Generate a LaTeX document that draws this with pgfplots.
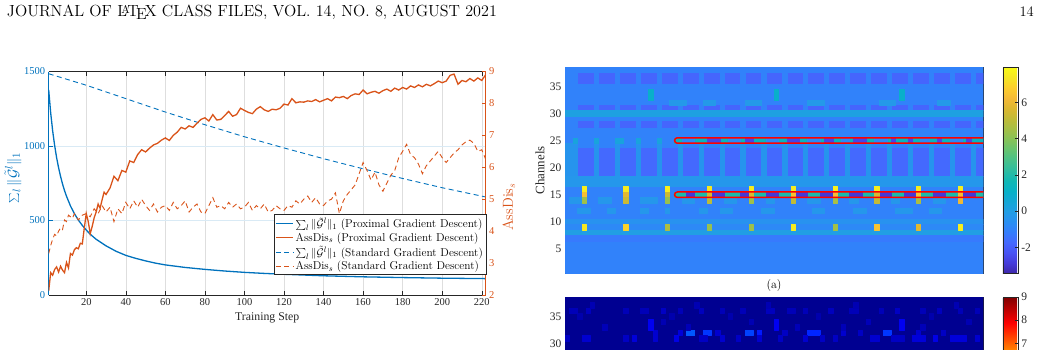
\documentclass[border=0pt]{standalone}
\usepackage{fontspec}
\newfontfamily\tnr{Liberation Serif}
\usepackage{graphicx}
\usepackage{pgfplots}
\pgfplotsset{compat=1.18}
\usepgfplotslibrary{patchplots}

\definecolor{matblue}{rgb}{0,0.447,0.741}
\definecolor{matorange}{rgb}{0.851,0.325,0.098}
\definecolor{axgray}{rgb}{0.15,0.15,0.15}

\pgfplotsset{
 colormap={parula}{rgb=(0.2422,0.1504,0.6603) rgb=(0.2704,0.2305,0.8549) rgb=(0.2810,0.3228,0.9579) rgb=(0.2681,0.4069,0.9962) rgb=(0.2061,0.4906,0.9910) rgb=(0.1609,0.5622,0.9466) rgb=(0.1296,0.6175,0.8964) rgb=(0.0750,0.6560,0.8380) rgb=(0.0267,0.6953,0.7806) rgb=(0.0595,0.7205,0.7076) rgb=(0.1766,0.7410,0.6301) rgb=(0.2810,0.7578,0.5394) rgb=(0.3975,0.7673,0.4393) rgb=(0.5264,0.7654,0.3472) rgb=(0.6443,0.7510,0.2767) rgb=(0.7529,0.7339,0.2173) rgb=(0.8612,0.7194,0.1877) rgb=(0.9600,0.7279,0.2118) rgb=(0.9900,0.8058,0.1713) rgb=(0.9634,0.9015,0.1355) rgb=(0.9769,0.9839,0.0805)},
 /pgf/number format/assume math mode=true,
 /pgf/number format/1000 sep={},
}

\newcommand{\tickfont}{\tnr\fontsize{10.5}{12}\selectfont}
\newcommand{\hmfont}{\tnr\fontsize{11.5}{13}\selectfont}

\begin{document}
\begin{tikzpicture}
\useasboundingbox (0pt,0pt) rectangle (1040pt,-349pt);
\clip (0pt,0pt) rectangle (1040pt,-349pt);

\node[anchor=base west, inner sep=0pt] at (6.7pt,-16pt) {\resizebox{490pt}{!}{\fontsize{14.5}{17}\selectfont JOURNAL OF \LaTeX\ CLASS FILES, VOL. 14, NO. 8, AUGUST 2021}};
\node[anchor=base east, inner sep=0pt] at (1034pt,-16pt) {\fontsize{14.5}{17}\selectfont 14};

%================ LEFT AXIS ================
\begin{axis}[
 at={(48.7pt,-295pt)}, anchor=south west,
 scale only axis, width=437pt, height=223.5pt,
 xmin=1, xmax=222, ymin=0, ymax=1500,
 xtick={20,40,...,220}, ytick={0,500,1000,1500},
 separate axis lines,
 axis line style={line width=0.6pt},
 x axis line style={axgray}, y axis line style={matblue},
 ytick pos=left,
 tick align=inside, major tick length=4pt,
 x tick style={axgray, line width=0.5pt}, y tick style={matblue, line width=0.5pt},
 x tick label style={text=axgray, font=\tickfont},
 y tick label style={text=matblue, font=\tickfont},
 xmajorgrids, ymajorgrids,
 x grid style={black!13, line width=0.5pt},
 y grid style={matblue!15, line width=0.5pt},
 xlabel={Training Step},
 xlabel style={text=axgray, font=\tnr\fontsize{11.8}{13}\selectfont},
 ylabel={$\sum_l \|\tilde{\mathcal{G}}^l\|_1$},
 ylabel style={text=matblue, font=\fontsize{15}{17}\selectfont, at={(axis description cs:-0.0817,0.525)}, anchor=center},
]
\addplot[matblue, line width=1.3pt] coordinates {
(1,1376)(2,1223)(3,1102)(4,1004)(5,922)(6,854)(7,796)(8,745)(9,701)(10,663)(12,598)(14,546)(16,503)(18,467)(20,436)(22,408)(25,374)(30,330)(35,294)(40,266)(45,246)(50,229)(55,214)(60,202)(70,185)(80,172)(90,161)(100,152)(110,145)(120,139)(140,129)(160,122)(180,117)(200,113)(222,110)
};
\addplot[matblue, line width=0.9pt, dash pattern=on 5pt off 3.5pt] coordinates {
(1,1485)(20,1408)(40,1318)(60,1228)(80,1143)(100,1062)(120,987)(140,915)(160,847)(180,782)(200,720)(222,658)
};
\end{axis}

%================ RIGHT AXIS ================
\begin{axis}[
 at={(48.7pt,-295pt)}, anchor=south west,
 scale only axis, width=437pt, height=223.5pt,
 xmin=1, xmax=222, ymin=2, ymax=9,
 ytick={2,3,...,9},
 axis x line=none, axis y line*=right,
 axis line style={-, matorange, line width=0.6pt},
 tick align=inside, major tick length=4pt,
 y tick style={matorange, line width=0.5pt},
 y tick label style={text=matorange, font=\tickfont},
 ylabel={AssDis$_s$},
 ylabel style={text=matorange, font=\fontsize{14.5}{16}\selectfont, at={(axis description cs:1.053,0.394)}, anchor=center},
 legend style={at={(1.002,0.09)}, anchor=south east, draw=axgray, font=\fontsize{11.4}{13}\selectfont, inner sep=1.5pt, row sep=-0.6pt, fill=white},
 legend cell align=left,
]
\addlegendimage{matblue, line width=1.3pt}
\addlegendentry{$\sum_l \|\tilde{\mathcal{G}}^l\|_1$ (Proximal Gradient Descent)}
\addlegendimage{matorange, line width=1.3pt}
\addlegendentry{AssDis$_s$ (Proximal Gradient Descent)}
\addlegendimage{matblue, line width=0.9pt, dash pattern=on 5pt off 3.5pt}
\addlegendentry{$\sum_l \|\tilde{\mathcal{G}}^l\|_1$ (Standard Gradient Descent)}
\addlegendimage{matorange, line width=0.9pt, dash pattern=on 5pt off 3.5pt}
\addlegendentry{AssDis$_s$ (Standard Gradient Descent)}
\addplot[matorange, line width=1.3pt, forget plot] coordinates {
(1,2.13)(2,2.70)(3,2.62)(4,2.80)(5,2.88)(6,2.72)(7,2.90)(8,2.78)(9,2.70)(10,3.02)(11,2.85)(12,3.30)(13,3.25)(14,3.42)(15,3.48)(16,3.45)(17,3.62)(18,3.60)(19,4.10)(20,4.55)(21,4.30)(22,3.92)(23,4.15)(24,4.42)(25,4.60)(26,4.85)(27,4.72)(28,4.98)(29,5.22)(30,5.15)
(32,5.35)(34,5.72)(36,5.58)(38,5.90)(40,5.85)(42,6.20)(44,6.15)(46,6.40)(48,6.55)(50,6.48)(52,6.60)(54,6.70)(56,6.75)(58,6.85)(60,6.92)(62,6.84)(64,7.00)(66,7.10)(68,7.25)(70,7.20)(72,7.30)(74,7.25)(76,7.38)(78,7.50)(80,7.55)(82,7.45)(84,7.65)(86,7.48)(88,7.50)(90,7.62)(92,7.75)(94,7.60)(96,7.65)(98,7.85)(100,7.78)(102,7.72)(104,7.68)(106,7.82)(108,7.90)(110,7.80)(112,7.75)(114,7.82)(116,7.80)(118,7.85)(120,7.98)(122,7.95)(124,8.15)(126,8.02)(128,8.05)(130,8.04)(132,8.08)(134,8.06)(136,8.12)(138,8.05)(140,8.10)(142,8.15)(144,8.08)(146,8.20)(148,8.18)(150,8.22)(152,8.15)(154,8.25)(156,8.30)(158,8.28)(160,8.42)(162,8.30)(164,8.35)(166,8.38)(168,8.32)(170,8.40)(172,8.45)(174,8.38)(176,8.48)(178,8.42)(180,8.50)(182,8.45)(184,8.55)(186,8.50)(188,8.58)(190,8.52)(192,8.60)(194,8.55)(196,8.62)(198,8.70)(200,8.65)(202,8.70)(204,8.88)(206,8.92)(208,8.60)(210,8.72)(212,8.68)(214,8.78)(216,8.70)(218,8.80)(220,8.72)(222,8.90)
};
\addplot[matorange, line width=0.9pt, dash pattern=on 5pt off 3.5pt, forget plot] coordinates {
(1,3.30)(2,3.55)(3,3.75)(4,3.90)(5,3.85)(6,4.00)(7,4.10)(8,4.05)(9,4.35)(10,4.30)(11,4.50)(12,4.45)(13,4.40)(14,4.55)(15,4.45)(16,4.35)(18,4.50)(20,4.55)(22,4.45)(24,4.70)(26,4.55)(28,4.80)(30,4.60)(32,4.75)(34,4.30)(36,4.70)(38,4.55)(40,4.90)(42,4.70)(44,4.95)(46,4.75)(48,5.00)(50,4.80)(52,4.65)(54,4.85)(56,4.60)(58,4.75)(60,4.80)(62,4.65)(64,4.90)(66,4.70)(68,4.80)(70,4.95)(72,4.60)(74,4.75)(76,4.85)(78,4.60)(80,4.55)(82,4.80)(84,5.05)(86,4.75)(88,4.80)(90,4.70)(92,4.90)(94,4.75)(96,4.85)(98,4.70)(100,4.75)(102,4.90)(104,4.65)(106,4.80)(108,4.70)(110,4.85)(112,4.60)(114,4.65)(116,4.80)(118,4.70)(120,4.65)(122,4.80)(124,4.75)(126,4.95)(128,4.85)(130,5.00)(132,5.10)(134,4.90)(136,5.05)(138,4.85)(140,4.80)(142,4.95)(144,5.00)(146,5.20)(148,4.55)(150,4.95)(152,5.15)(154,5.30)(156,5.45)(158,5.80)(160,6.15)(162,5.90)(164,5.60)(166,5.85)(168,5.45)(170,5.25)(172,5.50)(174,5.75)(176,5.90)(178,6.30)(180,6.50)(182,6.72)(184,6.40)(186,6.30)(188,6.10)(190,5.80)(192,6.05)(194,6.20)(196,6.35)(198,6.50)(200,6.30)(202,6.15)(204,6.30)(206,6.45)(208,6.55)(210,6.70)(212,6.80)(214,6.85)(216,6.75)(218,6.50)(220,6.55)(222,6.25)
};
\end{axis}

%================ TOP HEATMAP ================
\begin{axis}[
 at={(565pt,-273.3pt)}, anchor=south west,
 scale only axis, width=418.3pt, height=206pt,
 xmin=0.5, xmax=100.5, ymin=0.5, ymax=38.5,
 xtick={10,20,...,100}, xticklabels={},
 ytick={5,10,...,35},
 tick align=inside, major tick length=4pt,
 axis line style={axgray, line width=0.6pt},
 tick style={axgray, line width=0.5pt},
 y tick label style={text=axgray, font=\hmfont},
 ylabel={Channels},
 ylabel style={text=axgray, font=\tnr\fontsize{12.9}{14}\selectfont, at={(axis description cs:-0.0598,0.5)}, anchor=center},
 colormap name=parula, point meta min=-3.43, point meta max=7.94,
 colorbar,
 colorbar style={at={(parent axis.north east)}, anchor=north west, xshift=11pt, scale only axis, width=15pt, height=206pt,
   ytick={-2,0,2,4,6}, tick align=inside, ytick pos=right, yticklabel pos=right, major tick length=3pt,
   y tick label style={text=axgray, font=\hmfont}, axis line style={axgray, line width=0.6pt}, tick style={axgray, line width=0.5pt}},
]
\addplot[patch, patch type=rectangle, shader=flat, point meta=explicit] coordinates {
(0.5,0.5)[-1.0] (100.5,0.5)[-1.0] (100.5,38.5)[-1.0] (0.5,38.5)[-1.0]
(0.5,35.5)[-1.8] (100.5,35.5)[-1.8] (100.5,37.5)[-1.8] (0.5,37.5)[-1.8]
(0.5,30.5)[-1.8] (100.5,30.5)[-1.8] (100.5,31.5)[-1.8] (0.5,31.5)[-1.8]
(0.5,27.5)[-1.8] (100.5,27.5)[-1.8] (100.5,28.5)[-1.8] (0.5,28.5)[-1.8]
(0.5,18.5)[-1.7] (100.5,18.5)[-1.7] (100.5,23.5)[-1.7] (0.5,23.5)[-1.7]
(0.5,27.5)[-1.0] (3.5,27.5)[-1.0] (3.5,37.5)[-1.0] (0.5,37.5)[-1.0]
(7.5,27.5)[-1.0] (8.5,27.5)[-1.0] (8.5,37.5)[-1.0] (7.5,37.5)[-1.0]
(12.5,27.5)[-1.0] (13.5,27.5)[-1.0] (13.5,37.5)[-1.0] (12.5,37.5)[-1.0]
(17.5,27.5)[-1.0] (18.5,27.5)[-1.0] (18.5,37.5)[-1.0] (17.5,37.5)[-1.0]
(22.5,27.5)[-1.0] (23.5,27.5)[-1.0] (23.5,37.5)[-1.0] (22.5,37.5)[-1.0]
(27.5,27.5)[-1.0] (28.5,27.5)[-1.0] (28.5,37.5)[-1.0] (27.5,37.5)[-1.0]
(32.5,27.5)[-1.0] (33.5,27.5)[-1.0] (33.5,37.5)[-1.0] (32.5,37.5)[-1.0]
(37.5,27.5)[-1.0] (38.5,27.5)[-1.0] (38.5,37.5)[-1.0] (37.5,37.5)[-1.0]
(42.5,27.5)[-1.0] (43.5,27.5)[-1.0] (43.5,37.5)[-1.0] (42.5,37.5)[-1.0]
(47.5,27.5)[-1.0] (48.5,27.5)[-1.0] (48.5,37.5)[-1.0] (47.5,37.5)[-1.0]
(52.5,27.5)[-1.0] (53.5,27.5)[-1.0] (53.5,37.5)[-1.0] (52.5,37.5)[-1.0]
(57.5,27.5)[-1.0] (58.5,27.5)[-1.0] (58.5,37.5)[-1.0] (57.5,37.5)[-1.0]
(62.5,27.5)[-1.0] (63.5,27.5)[-1.0] (63.5,37.5)[-1.0] (62.5,37.5)[-1.0]
(67.5,27.5)[-1.0] (68.5,27.5)[-1.0] (68.5,37.5)[-1.0] (67.5,37.5)[-1.0]
(72.5,27.5)[-1.0] (73.5,27.5)[-1.0] (73.5,37.5)[-1.0] (72.5,37.5)[-1.0]
(77.5,27.5)[-1.0] (78.5,27.5)[-1.0] (78.5,37.5)[-1.0] (77.5,37.5)[-1.0]
(82.5,27.5)[-1.0] (83.5,27.5)[-1.0] (83.5,37.5)[-1.0] (82.5,37.5)[-1.0]
(87.5,27.5)[-1.0] (88.5,27.5)[-1.0] (88.5,37.5)[-1.0] (87.5,37.5)[-1.0]
(92.5,27.5)[-1.0] (93.5,27.5)[-1.0] (93.5,37.5)[-1.0] (92.5,37.5)[-1.0]
(97.5,27.5)[-1.0] (98.5,27.5)[-1.0] (98.5,37.5)[-1.0] (97.5,37.5)[-1.0]
(0.5,18.5)[-0.4] (3.5,18.5)[-0.4] (3.5,24.5)[-0.4] (0.5,24.5)[-0.4]
(7.5,18.5)[-0.4] (8.5,18.5)[-0.4] (8.5,24.5)[-0.4] (7.5,24.5)[-0.4]
(12.5,18.5)[-0.4] (13.5,18.5)[-0.4] (13.5,24.5)[-0.4] (12.5,24.5)[-0.4]
(17.5,18.5)[-0.4] (18.5,18.5)[-0.4] (18.5,24.5)[-0.4] (17.5,24.5)[-0.4]
(22.5,18.5)[-0.4] (23.5,18.5)[-0.4] (23.5,24.5)[-0.4] (22.5,24.5)[-0.4]
(27.5,18.5)[-0.4] (28.5,18.5)[-0.4] (28.5,24.5)[-0.4] (27.5,24.5)[-0.4]
(32.5,18.5)[-0.4] (33.5,18.5)[-0.4] (33.5,24.5)[-0.4] (32.5,24.5)[-0.4]
(37.5,18.5)[-0.4] (38.5,18.5)[-0.4] (38.5,24.5)[-0.4] (37.5,24.5)[-0.4]
(42.5,18.5)[-0.4] (43.5,18.5)[-0.4] (43.5,24.5)[-0.4] (42.5,24.5)[-0.4]
(47.5,18.5)[-0.4] (48.5,18.5)[-0.4] (48.5,24.5)[-0.4] (47.5,24.5)[-0.4]
(52.5,18.5)[-0.4] (53.5,18.5)[-0.4] (53.5,24.5)[-0.4] (52.5,24.5)[-0.4]
(57.5,18.5)[-0.4] (58.5,18.5)[-0.4] (58.5,24.5)[-0.4] (57.5,24.5)[-0.4]
(62.5,18.5)[-0.4] (63.5,18.5)[-0.4] (63.5,24.5)[-0.4] (62.5,24.5)[-0.4]
(67.5,18.5)[-0.4] (68.5,18.5)[-0.4] (68.5,24.5)[-0.4] (67.5,24.5)[-0.4]
(72.5,18.5)[-0.4] (73.5,18.5)[-0.4] (73.5,24.5)[-0.4] (72.5,24.5)[-0.4]
(77.5,18.5)[-0.4] (78.5,18.5)[-0.4] (78.5,24.5)[-0.4] (77.5,24.5)[-0.4]
(82.5,18.5)[-0.4] (83.5,18.5)[-0.4] (83.5,24.5)[-0.4] (82.5,24.5)[-0.4]
(87.5,18.5)[-0.4] (88.5,18.5)[-0.4] (88.5,24.5)[-0.4] (87.5,24.5)[-0.4]
(92.5,18.5)[-0.4] (93.5,18.5)[-0.4] (93.5,24.5)[-0.4] (92.5,24.5)[-0.4]
(97.5,18.5)[-0.4] (98.5,18.5)[-0.4] (98.5,24.5)[-0.4] (97.5,24.5)[-0.4]
(0.5,29.5)[0.1] (100.5,29.5)[0.1] (100.5,30.5)[0.1] (0.5,30.5)[0.1]
(0.5,16.5)[-0.3] (100.5,16.5)[-0.3] (100.5,18.5)[-0.3] (0.5,18.5)[-0.3]
(0.5,9.5)[-0.5] (100.5,9.5)[-0.5] (100.5,10.5)[-0.5] (0.5,10.5)[-0.5]
(0.5,8.5)[-0.8] (100.5,8.5)[-0.8] (100.5,9.5)[-0.8] (0.5,9.5)[-0.8]
(0.5,7.5)[0.0] (100.5,7.5)[0.0] (100.5,8.5)[0.0] (0.5,8.5)[0.0]
(0.5,6.5)[-1.25] (100.5,6.5)[-1.25] (100.5,7.5)[-1.25] (0.5,7.5)[-1.25]
(25.5,31.5)[-0.2] (29.5,31.5)[-0.2] (29.5,32.5)[-0.2] (25.5,32.5)[-0.2]
(33.5,31.5)[-0.2] (36.5,31.5)[-0.2] (36.5,32.5)[-0.2] (33.5,32.5)[-0.2]
(43.5,31.5)[-0.2] (47.5,31.5)[-0.2] (47.5,32.5)[-0.2] (43.5,32.5)[-0.2]
(58.5,31.5)[-0.2] (62.5,31.5)[-0.2] (62.5,32.5)[-0.2] (58.5,32.5)[-0.2]
(75.5,31.5)[-0.2] (79.5,31.5)[-0.2] (79.5,32.5)[-0.2] (75.5,32.5)[-0.2]
(89.5,31.5)[-0.2] (92.5,31.5)[-0.2] (92.5,32.5)[-0.2] (89.5,32.5)[-0.2]
(20.5,32.5)[1.0] (21.5,32.5)[1.0] (21.5,34.5)[1.0] (20.5,34.5)[1.0]
(50.5,32.5)[1.0] (51.5,32.5)[1.0] (51.5,34.5)[1.0] (50.5,34.5)[1.0]
(80.5,32.5)[1.0] (81.5,32.5)[1.0] (81.5,34.5)[1.0] (80.5,34.5)[1.0]
(2.5,24.5)[0.3] (3.5,24.5)[0.3] (3.5,25.5)[0.3] (2.5,25.5)[0.3]
(7.5,24.5)[0.3] (8.5,24.5)[0.3] (8.5,25.5)[0.3] (7.5,25.5)[0.3]
(12.5,24.5)[0.3] (14.5,24.5)[0.3] (14.5,25.5)[0.3] (12.5,25.5)[0.3]
(17.5,24.5)[0.3] (18.5,24.5)[0.3] (18.5,25.5)[0.3] (17.5,25.5)[0.3]
(22.5,24.5)[0.3] (23.5,24.5)[0.3] (23.5,25.5)[0.3] (22.5,25.5)[0.3]
(26.5,24.5)[1.4] (100.5,24.5)[1.4] (100.5,25.5)[1.4] (26.5,25.5)[1.4]
(28.5,24.5)[-0.8] (31.5,24.5)[-0.8] (31.5,25.5)[-0.8] (28.5,25.5)[-0.8]
(39.5,24.5)[-0.8] (42.5,24.5)[-0.8] (42.5,25.5)[-0.8] (39.5,25.5)[-0.8]
(48.5,24.5)[-0.8] (51.5,24.5)[-0.8] (51.5,25.5)[-0.8] (48.5,25.5)[-0.8]
(58.5,24.5)[-0.8] (61.5,24.5)[-0.8] (61.5,25.5)[-0.8] (58.5,25.5)[-0.8]
(66.5,24.5)[-0.8] (68.5,24.5)[-0.8] (68.5,25.5)[-0.8] (66.5,25.5)[-0.8]
(74.5,24.5)[-0.8] (77.5,24.5)[-0.8] (77.5,25.5)[-0.8] (74.5,25.5)[-0.8]
(85.5,24.5)[-0.8] (87.5,24.5)[-0.8] (87.5,25.5)[-0.8] (85.5,25.5)[-0.8]
(92.5,24.5)[-0.8] (95.5,24.5)[-0.8] (95.5,25.5)[-0.8] (92.5,25.5)[-0.8]
(34.5,24.5)[-2.6] (37.5,24.5)[-2.6] (37.5,25.5)[-2.6] (34.5,25.5)[-2.6]
(43.5,24.5)[-2.6] (45.5,24.5)[-2.6] (45.5,25.5)[-2.6] (43.5,25.5)[-2.6]
(53.5,24.5)[-2.6] (56.5,24.5)[-2.6] (56.5,25.5)[-2.6] (53.5,25.5)[-2.6]
(62.5,24.5)[-2.6] (64.5,24.5)[-2.6] (64.5,25.5)[-2.6] (62.5,25.5)[-2.6]
(69.5,24.5)[-2.6] (72.5,24.5)[-2.6] (72.5,25.5)[-2.6] (69.5,25.5)[-2.6]
(78.5,24.5)[-2.6] (79.5,24.5)[-2.6] (79.5,25.5)[-2.6] (78.5,25.5)[-2.6]
(82.5,24.5)[-2.6] (83.5,24.5)[-2.6] (83.5,25.5)[-2.6] (82.5,25.5)[-2.6]
(89.5,24.5)[-2.6] (90.5,24.5)[-2.6] (90.5,25.5)[-2.6] (89.5,25.5)[-2.6]
(96.5,24.5)[-2.6] (97.5,24.5)[-2.6] (97.5,25.5)[-2.6] (96.5,25.5)[-2.6]
(26.5,14.5)[1.9] (100.5,14.5)[1.9] (100.5,15.5)[1.9] (26.5,15.5)[1.9]
(29.5,14.5)[-2.9] (31.5,14.5)[-2.9] (31.5,15.5)[-2.9] (29.5,15.5)[-2.9]
(35.5,14.5)[-2.9] (38.5,14.5)[-2.9] (38.5,15.5)[-2.9] (35.5,15.5)[-2.9]
(42.5,14.5)[-2.9] (44.5,14.5)[-2.9] (44.5,15.5)[-2.9] (42.5,15.5)[-2.9]
(48.5,14.5)[-2.9] (51.5,14.5)[-2.9] (51.5,15.5)[-2.9] (48.5,15.5)[-2.9]
(55.5,14.5)[-2.9] (58.5,14.5)[-2.9] (58.5,15.5)[-2.9] (55.5,15.5)[-2.9]
(61.5,14.5)[-2.9] (64.5,14.5)[-2.9] (64.5,15.5)[-2.9] (61.5,15.5)[-2.9]
(68.5,14.5)[-2.9] (71.5,14.5)[-2.9] (71.5,15.5)[-2.9] (68.5,15.5)[-2.9]
(75.5,14.5)[-2.9] (78.5,14.5)[-2.9] (78.5,15.5)[-2.9] (75.5,15.5)[-2.9]
(81.5,14.5)[-2.9] (84.5,14.5)[-2.9] (84.5,15.5)[-2.9] (81.5,15.5)[-2.9]
(88.5,14.5)[-2.9] (91.5,14.5)[-2.9] (91.5,15.5)[-2.9] (88.5,15.5)[-2.9]
(95.5,14.5)[-2.9] (98.5,14.5)[-2.9] (98.5,15.5)[-2.9] (95.5,15.5)[-2.9]
(1.5,13.5)[-0.3] (4.5,13.5)[-0.3] (4.5,14.5)[-0.3] (1.5,14.5)[-0.3]
(8.5,13.5)[-0.3] (11.5,13.5)[-0.3] (11.5,14.5)[-0.3] (8.5,14.5)[-0.3]
(18.5,13.5)[-0.3] (22.5,13.5)[-0.3] (22.5,14.5)[-0.3] (18.5,14.5)[-0.3]
(28.5,13.5)[-0.3] (31.5,13.5)[-0.3] (31.5,14.5)[-0.3] (28.5,14.5)[-0.3]
(38.5,13.5)[-0.3] (41.5,13.5)[-0.3] (41.5,14.5)[-0.3] (38.5,14.5)[-0.3]
(48.5,13.5)[-0.3] (50.5,13.5)[-0.3] (50.5,14.5)[-0.3] (48.5,14.5)[-0.3]
(58.5,13.5)[-0.3] (61.5,13.5)[-0.3] (61.5,14.5)[-0.3] (58.5,14.5)[-0.3]
(68.5,13.5)[-0.3] (70.5,13.5)[-0.3] (70.5,14.5)[-0.3] (68.5,14.5)[-0.3]
(78.5,13.5)[-0.3] (80.5,13.5)[-0.3] (80.5,14.5)[-0.3] (78.5,14.5)[-0.3]
(88.5,13.5)[-0.3] (91.5,13.5)[-0.3] (91.5,14.5)[-0.3] (88.5,14.5)[-0.3]
(3.5,11.5)[-0.3] (6.5,11.5)[-0.3] (6.5,12.5)[-0.3] (3.5,12.5)[-0.3]
(10.5,11.5)[-0.3] (12.5,11.5)[-0.3] (12.5,12.5)[-0.3] (10.5,12.5)[-0.3]
(18.5,11.5)[-0.3] (20.5,11.5)[-0.3] (20.5,12.5)[-0.3] (18.5,12.5)[-0.3]
(24.5,11.5)[-0.3] (25.5,11.5)[-0.3] (25.5,12.5)[-0.3] (24.5,12.5)[-0.3]
(32.5,11.5)[-0.3] (34.5,11.5)[-0.3] (34.5,12.5)[-0.3] (32.5,12.5)[-0.3]
(37.5,11.5)[-0.3] (40.5,11.5)[-0.3] (40.5,12.5)[-0.3] (37.5,12.5)[-0.3]
(47.5,11.5)[-0.3] (50.5,11.5)[-0.3] (50.5,12.5)[-0.3] (47.5,12.5)[-0.3]
(59.5,11.5)[-0.3] (62.5,11.5)[-0.3] (62.5,12.5)[-0.3] (59.5,12.5)[-0.3]
(69.5,11.5)[-0.3] (72.5,11.5)[-0.3] (72.5,12.5)[-0.3] (69.5,12.5)[-0.3]
(79.5,11.5)[-0.3] (83.5,11.5)[-0.3] (83.5,12.5)[-0.3] (79.5,12.5)[-0.3]
(87.5,11.5)[-0.3] (90.5,11.5)[-0.3] (90.5,12.5)[-0.3] (87.5,12.5)[-0.3]
(4.5,15.5)[7.6] (5.5,15.5)[7.6] (5.5,16.5)[7.6] (4.5,16.5)[7.6]
(14.5,15.5)[7.5] (15.5,15.5)[7.5] (15.5,16.5)[7.5] (14.5,16.5)[7.5]
(24.5,15.5)[7.6] (25.5,15.5)[7.6] (25.5,16.5)[7.6] (24.5,16.5)[7.6]
(34.5,15.5)[7.4] (35.5,15.5)[7.4] (35.5,16.5)[7.4] (34.5,16.5)[7.4]
(44.5,15.5)[7.6] (45.5,15.5)[7.6] (45.5,16.5)[7.6] (44.5,16.5)[7.6]
(54.5,15.5)[7.5] (55.5,15.5)[7.5] (55.5,16.5)[7.5] (54.5,16.5)[7.5]
(64.5,15.5)[7.7] (65.5,15.5)[7.7] (65.5,16.5)[7.7] (64.5,16.5)[7.7]
(74.5,15.5)[7.6] (75.5,15.5)[7.6] (75.5,16.5)[7.6] (74.5,16.5)[7.6]
(84.5,15.5)[7.5] (85.5,15.5)[7.5] (85.5,16.5)[7.5] (84.5,16.5)[7.5]
(94.5,15.5)[7.6] (95.5,15.5)[7.6] (95.5,16.5)[7.6] (94.5,16.5)[7.6]
(4.5,14.5)[6.4] (5.5,14.5)[6.4] (5.5,15.5)[6.4] (4.5,15.5)[6.4]
(14.5,14.5)[5.8] (15.5,14.5)[5.8] (15.5,15.5)[5.8] (14.5,15.5)[5.8]
(24.5,14.5)[5.3] (25.5,14.5)[5.3] (25.5,15.5)[5.3] (24.5,15.5)[5.3]
(34.5,14.5)[5.5] (35.5,14.5)[5.5] (35.5,15.5)[5.5] (34.5,15.5)[5.5]
(44.5,14.5)[5.6] (45.5,14.5)[5.6] (45.5,15.5)[5.6] (44.5,15.5)[5.6]
(54.5,14.5)[6.4] (55.5,14.5)[6.4] (55.5,15.5)[6.4] (54.5,15.5)[6.4]
(64.5,14.5)[6.3] (65.5,14.5)[6.3] (65.5,15.5)[6.3] (64.5,15.5)[6.3]
(74.5,14.5)[5.6] (75.5,14.5)[5.6] (75.5,15.5)[5.6] (74.5,15.5)[5.6]
(84.5,14.5)[6.5] (85.5,14.5)[6.5] (85.5,15.5)[6.5] (84.5,15.5)[6.5]
(94.5,14.5)[6.3] (95.5,14.5)[6.3] (95.5,15.5)[6.3] (94.5,15.5)[6.3]
(4.5,13.5)[4.4] (5.5,13.5)[4.4] (5.5,14.5)[4.4] (4.5,14.5)[4.4]
(14.5,13.5)[5.3] (15.5,13.5)[5.3] (15.5,14.5)[5.3] (14.5,14.5)[5.3]
(24.5,13.5)[4.3] (25.5,13.5)[4.3] (25.5,14.5)[4.3] (24.5,14.5)[4.3]
(34.5,13.5)[5.0] (35.5,13.5)[5.0] (35.5,14.5)[5.0] (34.5,14.5)[5.0]
(44.5,13.5)[4.4] (45.5,13.5)[4.4] (45.5,14.5)[4.4] (44.5,14.5)[4.4]
(54.5,13.5)[5.1] (55.5,13.5)[5.1] (55.5,14.5)[5.1] (54.5,14.5)[5.1]
(64.5,13.5)[4.6] (65.5,13.5)[4.6] (65.5,14.5)[4.6] (64.5,14.5)[4.6]
(74.5,13.5)[5.2] (75.5,13.5)[5.2] (75.5,14.5)[5.2] (74.5,14.5)[5.2]
(84.5,13.5)[4.7] (85.5,13.5)[4.7] (85.5,14.5)[4.7] (84.5,14.5)[4.7]
(94.5,13.5)[6.1] (95.5,13.5)[6.1] (95.5,14.5)[6.1] (94.5,14.5)[6.1]
(4.5,8.5)[7.4] (5.5,8.5)[7.4] (5.5,9.5)[7.4] (4.5,9.5)[7.4]
(14.5,8.5)[6.9] (15.5,8.5)[6.9] (15.5,9.5)[6.9] (14.5,9.5)[6.9]
(24.5,8.5)[4.7] (25.5,8.5)[4.7] (25.5,9.5)[4.7] (24.5,9.5)[4.7]
(34.5,8.5)[4.3] (35.5,8.5)[4.3] (35.5,9.5)[4.3] (34.5,9.5)[4.3]
(44.5,8.5)[4.4] (45.5,8.5)[4.4] (45.5,9.5)[4.4] (44.5,9.5)[4.4]
(54.5,8.5)[7.5] (55.5,8.5)[7.5] (55.5,9.5)[7.5] (54.5,9.5)[7.5]
(64.5,8.5)[4.5] (65.5,8.5)[4.5] (65.5,9.5)[4.5] (64.5,9.5)[4.5]
(74.5,8.5)[6.5] (75.5,8.5)[6.5] (75.5,9.5)[6.5] (74.5,9.5)[6.5]
(84.5,8.5)[5.8] (85.5,8.5)[5.8] (85.5,9.5)[5.8] (84.5,9.5)[5.8]
(94.5,8.5)[7.6] (95.5,8.5)[7.6] (95.5,9.5)[7.6] (94.5,9.5)[7.6]
};
\draw[red, line width=1.5pt, rounded corners=2.7pt] (axis cs:26.7,24.5) rectangle (axis cs:101.5,25.5);
\draw[red, line width=1.5pt, rounded corners=2.7pt] (axis cs:26.7,14.5) rectangle (axis cs:101.5,15.5);
\end{axis}

\node at (774pt,-285.7pt) {\fontsize{12}{14}\selectfont (a)};

%================ BOTTOM HEATMAP ================
\begin{axis}[
 at={(565pt,-297pt)}, anchor=north west,
 scale only axis, width=418.3pt, height=209pt,
 xmin=0.5, xmax=100.5, ymin=0.5, ymax=38.5,
 xtick={10,20,...,100}, xticklabels={},
 ytick={5,10,...,35},
 tick align=inside, major tick length=4pt,
 axis line style={axgray, line width=0.6pt},
 tick style={axgray, line width=0.5pt},
 y tick label style={text=axgray, font=\hmfont},
 ylabel={Channels},
 ylabel style={text=axgray, font=\tnr\fontsize{12.9}{14}\selectfont, at={(axis description cs:-0.0598,0.5)}, anchor=center},
 colormap/jet, point meta min=0, point meta max=9,
 colorbar,
 colorbar style={at={(parent axis.north east)}, anchor=north west, xshift=11pt, scale only axis, width=15pt, height=209pt,
   ytick={0,1,...,9}, tick align=inside, ytick pos=right, yticklabel pos=right, major tick length=3pt,
   y tick label style={text=axgray, font=\hmfont}, axis line style={axgray, line width=0.6pt}, tick style={axgray, line width=0.5pt}},
]
\addplot[patch, patch type=rectangle, shader=flat, point meta=explicit] coordinates {
(0.5,0.5)[0.15] (100.5,0.5)[0.15] (100.5,38.5)[0.15] (0.5,38.5)[0.15]
(29.5,31.5)[1.9] (31.5,31.5)[1.9] (31.5,32.5)[1.9] (29.5,32.5)[1.9]
(33.5,31.5)[1.6] (35.5,31.5)[1.6] (35.5,32.5)[1.6] (33.5,32.5)[1.6]
(43.5,31.5)[1.7] (45.5,31.5)[1.7] (45.5,32.5)[1.7] (43.5,32.5)[1.7]
(46.5,31.5)[1.35] (47.5,31.5)[1.35] (47.5,32.5)[1.35] (46.5,32.5)[1.35]
(58.5,31.5)[1.45] (61.5,31.5)[1.45] (61.5,32.5)[1.45] (58.5,32.5)[1.45]
(76.5,31.5)[1.6] (78.5,31.5)[1.6] (78.5,32.5)[1.6] (76.5,32.5)[1.6]
(21.5,31.5)[0.7] (22.5,31.5)[0.7] (22.5,32.5)[0.7] (21.5,32.5)[0.7]
(27.5,31.5)[0.8] (28.5,31.5)[0.8] (28.5,32.5)[0.8] (27.5,32.5)[0.8]
(36.5,31.5)[0.7] (37.5,31.5)[0.7] (37.5,32.5)[0.7] (36.5,32.5)[0.7]
(52.5,31.5)[0.6] (53.5,31.5)[0.6] (53.5,32.5)[0.6] (52.5,32.5)[0.6]
(66.5,31.5)[0.7] (67.5,31.5)[0.7] (67.5,32.5)[0.7] (66.5,32.5)[0.7]
(70.5,31.5)[0.6] (71.5,31.5)[0.6] (71.5,32.5)[0.6] (70.5,32.5)[0.6]
(84.5,31.5)[0.7] (85.5,31.5)[0.7] (85.5,32.5)[0.7] (84.5,32.5)[0.7]
(90.5,31.5)[0.6] (91.5,31.5)[0.6] (91.5,32.5)[0.6] (90.5,32.5)[0.6]
(0.5,30.5)[0.6] (1.5,30.5)[0.6] (1.5,31.5)[0.6] (0.5,31.5)[0.6]
(4.5,30.5)[0.7] (6.5,30.5)[0.7] (6.5,31.5)[0.7] (4.5,31.5)[0.7]
(14.5,30.5)[0.6] (15.5,30.5)[0.6] (15.5,31.5)[0.6] (14.5,31.5)[0.6]
(16.5,30.5)[0.8] (17.5,30.5)[0.8] (17.5,31.5)[0.8] (16.5,31.5)[0.8]
(21.5,30.5)[0.7] (22.5,30.5)[0.7] (22.5,31.5)[0.7] (21.5,31.5)[0.7]
(26.5,30.5)[0.9] (27.5,30.5)[0.9] (27.5,31.5)[0.9] (26.5,31.5)[0.9]
(32.5,30.5)[0.6] (34.5,30.5)[0.6] (34.5,31.5)[0.6] (32.5,31.5)[0.6]
(37.5,30.5)[0.7] (38.5,30.5)[0.7] (38.5,31.5)[0.7] (37.5,31.5)[0.7]
(41.5,30.5)[0.6] (42.5,30.5)[0.6] (42.5,31.5)[0.6] (41.5,31.5)[0.6]
(46.5,30.5)[0.7] (47.5,30.5)[0.7] (47.5,31.5)[0.7] (46.5,31.5)[0.7]
(51.5,30.5)[0.6] (52.5,30.5)[0.6] (52.5,31.5)[0.6] (51.5,31.5)[0.6]
(57.5,30.5)[0.7] (58.5,30.5)[0.7] (58.5,31.5)[0.7] (57.5,31.5)[0.7]
(61.5,30.5)[0.6] (62.5,30.5)[0.6] (62.5,31.5)[0.6] (61.5,31.5)[0.6]
(64.5,30.5)[0.6] (65.5,30.5)[0.6] (65.5,31.5)[0.6] (64.5,31.5)[0.6]
(73.5,30.5)[0.7] (75.5,30.5)[0.7] (75.5,31.5)[0.7] (73.5,31.5)[0.7]
(78.5,30.5)[0.6] (81.5,30.5)[0.6] (81.5,31.5)[0.6] (78.5,31.5)[0.6]
(83.5,30.5)[0.8] (86.5,30.5)[0.8] (86.5,31.5)[0.8] (83.5,31.5)[0.8]
(88.5,30.5)[0.9] (89.5,30.5)[0.9] (89.5,31.5)[0.9] (88.5,31.5)[0.9]
(92.5,30.5)[0.8] (96.5,30.5)[0.8] (96.5,31.5)[0.8] (92.5,31.5)[0.8]
(98.5,30.5)[0.7] (99.5,30.5)[0.7] (99.5,31.5)[0.7] (98.5,31.5)[0.7]
(20.5,32.5)[1.0] (21.5,32.5)[1.0] (21.5,34.5)[1.0] (20.5,34.5)[1.0]
(50.5,32.5)[1.0] (51.5,32.5)[1.0] (51.5,34.5)[1.0] (50.5,34.5)[1.0]
(80.5,32.5)[1.0] (81.5,32.5)[1.0] (81.5,34.5)[1.0] (80.5,34.5)[1.0]
(23.5,33.5)[0.45] (24.5,33.5)[0.45] (24.5,34.5)[0.45] (23.5,34.5)[0.45]
(44.5,33.5)[0.45] (45.5,33.5)[0.45] (45.5,34.5)[0.45] (44.5,34.5)[0.45]
(72.5,33.5)[0.5] (73.5,33.5)[0.5] (73.5,34.5)[0.5] (72.5,34.5)[0.5]
(96.5,33.5)[0.45] (97.5,33.5)[0.45] (97.5,34.5)[0.45] (96.5,34.5)[0.45]
(9.5,32.5)[0.5] (10.5,32.5)[0.5] (10.5,33.5)[0.5] (9.5,33.5)[0.5]
(29.5,32.5)[0.5] (30.5,32.5)[0.5] (30.5,33.5)[0.5] (29.5,33.5)[0.5]
(55.5,32.5)[0.5] (56.5,32.5)[0.5] (56.5,33.5)[0.5] (55.5,33.5)[0.5]
(66.5,32.5)[0.5] (67.5,32.5)[0.5] (67.5,33.5)[0.5] (66.5,33.5)[0.5]
(85.5,32.5)[0.5] (86.5,32.5)[0.5] (86.5,33.5)[0.5] (85.5,33.5)[0.5]
(3.5,34.5)[0.4] (4.5,34.5)[0.4] (4.5,35.5)[0.4] (3.5,35.5)[0.4]
(25.5,34.5)[0.4] (26.5,34.5)[0.4] (26.5,35.5)[0.4] (25.5,35.5)[0.4]
(39.5,34.5)[0.4] (40.5,34.5)[0.4] (40.5,35.5)[0.4] (39.5,35.5)[0.4]
(60.5,34.5)[0.4] (61.5,34.5)[0.4] (61.5,35.5)[0.4] (60.5,35.5)[0.4]
(87.5,34.5)[0.4] (88.5,34.5)[0.4] (88.5,35.5)[0.4] (87.5,35.5)[0.4]
(1.5,35.5)[0.5] (3.5,35.5)[0.5] (3.5,36.5)[0.5] (1.5,36.5)[0.5]
(5.5,35.5)[0.55] (6.5,35.5)[0.55] (6.5,36.5)[0.55] (5.5,36.5)[0.55]
(14.5,35.5)[0.5] (15.5,35.5)[0.5] (15.5,36.5)[0.5] (14.5,36.5)[0.5]
(18.5,35.5)[0.5] (20.5,35.5)[0.5] (20.5,36.5)[0.5] (18.5,36.5)[0.5]
(23.5,35.5)[0.6] (24.5,35.5)[0.6] (24.5,36.5)[0.6] (23.5,36.5)[0.6]
(27.5,35.5)[0.5] (28.5,35.5)[0.5] (28.5,36.5)[0.5] (27.5,36.5)[0.5]
(32.5,35.5)[0.55] (33.5,35.5)[0.55] (33.5,36.5)[0.55] (32.5,36.5)[0.55]
(37.5,35.5)[0.5] (38.5,35.5)[0.5] (38.5,36.5)[0.5] (37.5,36.5)[0.5]
(42.5,35.5)[0.5] (43.5,35.5)[0.5] (43.5,36.5)[0.5] (42.5,36.5)[0.5]
(48.5,35.5)[0.55] (50.5,35.5)[0.55] (50.5,36.5)[0.55] (48.5,36.5)[0.55]
(53.5,35.5)[0.5] (55.5,35.5)[0.5] (55.5,36.5)[0.5] (53.5,36.5)[0.5]
(57.5,35.5)[0.5] (58.5,35.5)[0.5] (58.5,36.5)[0.5] (57.5,36.5)[0.5]
(63.5,35.5)[0.55] (64.5,35.5)[0.55] (64.5,36.5)[0.55] (63.5,36.5)[0.55]
(68.5,35.5)[0.5] (70.5,35.5)[0.5] (70.5,36.5)[0.5] (68.5,36.5)[0.5]
(75.5,35.5)[0.5] (76.5,35.5)[0.5] (76.5,36.5)[0.5] (75.5,36.5)[0.5]
(79.5,35.5)[0.6] (80.5,35.5)[0.6] (80.5,36.5)[0.6] (79.5,36.5)[0.6]
(85.5,35.5)[0.5] (86.5,35.5)[0.5] (86.5,36.5)[0.5] (85.5,36.5)[0.5]
(89.5,35.5)[0.55] (90.5,35.5)[0.55] (90.5,36.5)[0.55] (89.5,36.5)[0.55]
(94.5,35.5)[0.5] (95.5,35.5)[0.5] (95.5,36.5)[0.5] (94.5,36.5)[0.5]
(98.5,35.5)[0.5] (99.5,35.5)[0.5] (99.5,36.5)[0.5] (98.5,36.5)[0.5]
(6.5,36.5)[0.45] (7.5,36.5)[0.45] (7.5,37.5)[0.45] (6.5,37.5)[0.45]
(31.5,36.5)[0.45] (32.5,36.5)[0.45] (32.5,37.5)[0.45] (31.5,37.5)[0.45]
(48.5,36.5)[0.45] (49.5,36.5)[0.45] (49.5,37.5)[0.45] (48.5,37.5)[0.45]
(69.5,36.5)[0.45] (70.5,36.5)[0.45] (70.5,37.5)[0.45] (69.5,37.5)[0.45]
(93.5,36.5)[0.45] (94.5,36.5)[0.45] (94.5,37.5)[0.45] (93.5,37.5)[0.45]
};
\end{axis}
\end{tikzpicture}
\end{document}
